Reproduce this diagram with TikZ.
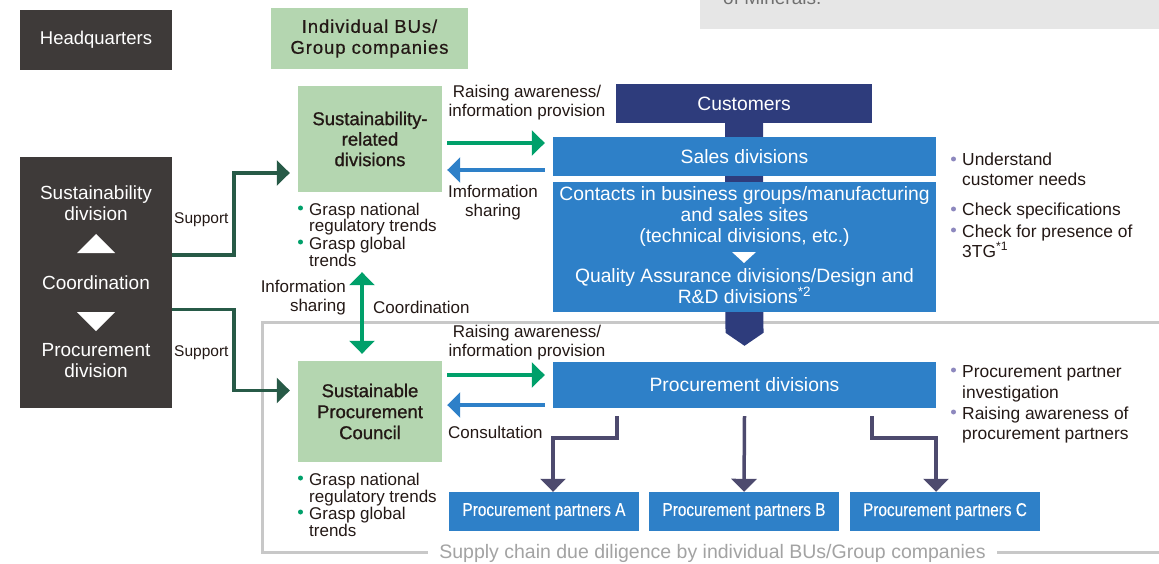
\documentclass[tikz,border=0pt]{standalone}
\usepackage{fontspec}
\setmainfont{Liberation Sans}
\newfontfamily\medfont{Liberation Sans}[FakeBold=1.0]
\newfontfamily\spfont{Liberation Sans}[FakeBold=0.5,LetterSpace=5]
\newfontfamily\cdfont{Liberation Sans}[FakeStretch=0.83,FakeBold=0.3]
\usetikzlibrary{arrows.meta,calc,backgrounds}
\definecolor{hqdark}{HTML}{3E3A39}
\definecolor{lgreen}{HTML}{B4D6B0}
\definecolor{navy}{HTML}{2E3C7C}
\definecolor{bblue}{HTML}{2E80C8}
\definecolor{agreen}{HTML}{00A06A}
\definecolor{sgreen}{HTML}{275A47}
\definecolor{parr}{HTML}{4D4A6E}
\definecolor{gframe}{HTML}{C8C8C8}
\definecolor{gtext}{HTML}{A3A3A3}
\definecolor{gbox}{HTML}{E6E6E6}
\definecolor{gboxtext}{HTML}{707070}
\definecolor{bpurple}{HTML}{8D88BE}
\definecolor{ink}{HTML}{231815}
\begin{document}
\begin{tikzpicture}[x=1pt,y=-1pt,text=ink,
  font=\fontsize{17}{19}\selectfont,
  darkbox/.style={fill=hqdark,text=white,inner sep=0pt,align=center},
  greenbox/.style={fill=lgreen,text=ink,inner sep=0pt,align=center},
  bluebox/.style={fill=bblue,text=white,inner sep=0pt,align=center,font=\fontsize{19.3}{21}\selectfont},
  lbl/.style={inner sep=0pt,align=center},
  ln/.style={inner sep=0pt,anchor=base west},
  tipA/.tip={Triangle[length=13pt,width=25pt]},
  garrow/.style={draw=agreen,line width=4pt,-tipA},
  barrow/.style={draw=bblue,line width=4pt,-tipA},
  sarrow/.style={draw=sgreen,line width=3.5pt,-tipA},
  parrow/.style={draw=parr,line width=3.5pt,-tipA},
  gdot/.style={fill=agreen},
  pdot/.style={fill=bpurple}]
\useasboundingbox (0,0) rectangle (1159,564);

% top-right grey box (cut off)
\fill[gbox] (700,0) rectangle (1159,29);
\begin{scope}
\clip (700,0) rectangle (1159,29);
\node[ln,text=gboxtext,font=\fontsize{19}{21}\selectfont] (minerals) at (723,5) {of Minerals.};
\end{scope}

% headquarters
\node[darkbox,minimum width=152pt,minimum height=60pt,font=\fontsize{18.5}{20}\selectfont] (hq) at (96,40) {Headquarters};
\node[greenbox,minimum width=197pt,minimum height=61pt,font=\spfont\fontsize{18.5}{21}\selectfont] (bu) at (369.5,38.5) {Individual BUs/\\Group companies};

% left dark box
\node[darkbox,minimum width=152pt,minimum height=250pt] (lb) at (96,282.5) {};
\node[lbl,text=white,font=\fontsize{19}{21}\selectfont] (lbs) at (96,203.5) {Sustainability\\division};
\fill[white] (77,253) -- (115,253) -- (96,234) -- cycle;
\node[lbl,text=white,font=\fontsize{19}{21}\selectfont] (lbc) at (96,283) {Coordination};
\fill[white] (77,312) -- (115,312) -- (96,331) -- cycle;
\node[lbl,text=white,font=\fontsize{19}{21}\selectfont] (lbp) at (96,361) {Procurement\\division};

% green boxes
\node[greenbox,minimum width=144pt,minimum height=106pt,font=\medfont\fontsize{18.5}{20.5}\selectfont] (sr) at (370,139) {Sustainability-\\related\\divisions};
\node[greenbox,minimum width=144pt,minimum height=101pt,font=\medfont\fontsize{18.5}{21}\selectfont] (spc) at (370,411.5) {Sustainable\\Procurement\\Council};

% blue boxes
\node[bluebox,fill=navy,minimum width=256pt,minimum height=39pt] (cust) at (744,103.5) {Customers};
\node[bluebox,minimum width=383pt,minimum height=39pt] (sales) at (744.5,156.5) {Sales divisions};
\node[bluebox,minimum width=383pt,minimum height=130pt] (cont) at (744.5,247) {};
\node[lbl,text=white,font=\fontsize{19.3}{21}\selectfont] (cont1) at (744.5,217) {Contacts in business groups/manufacturing\\and sales sites\\(technical divisions, etc.)};
\fill[white] (732,252) -- (756,252) -- (744,263) -- cycle;
\node[lbl,text=white,font=\fontsize{19.3}{21}\selectfont] (cont2) at (744.5,286.5) {Quality Assurance divisions/Design and\\R\&D divisions\textsuperscript{*2}};
\node[bluebox,minimum width=383pt,minimum height=46pt] (pd) at (744.5,385) {Procurement divisions};
\node[bluebox,font=\cdfont\fontsize{18.5}{20}\selectfont,minimum width=190pt,minimum height=39pt] (pa) at (544,511.5) {Procurement partners A};
\node[bluebox,font=\cdfont\fontsize{18.5}{20}\selectfont,minimum width=190pt,minimum height=39pt] (pb) at (744,511.5) {Procurement partners B};
\node[bluebox,font=\cdfont\fontsize{18.5}{20}\selectfont,minimum width=190pt,minimum height=39pt] (pc) at (945,511.5) {Procurement partners C};

% support arrows
\draw[sarrow] ($(lb.east)+(0,-27.5)$) -- ++(62,0) |- ($(sr.west)+(-8,34)$);
\draw[sarrow] ($(lb.east)+(0,27)$) -- ++(62,0) |- ($(spc.west)+(-8,-21)$);
\node[ln,font=\fontsize{15.5}{17}\selectfont] (sup1) at (174,223) {Support};
\node[ln,font=\fontsize{15.5}{17}\selectfont] (sup2) at (174,356) {Support};

% horizontal arrows
\draw[garrow] ($(sr.east)+(5,4)$) -- ($(sales.west)+(-8,-13.5)$);
\draw[barrow] ($(sales.west)+(-8,13.5)$) -- ($(sr.east)+(5,31)$);
\draw[garrow] ($(spc.east)+(5,-36.5)$) -- ($(pd.west)+(-8,-10)$);
\draw[barrow] ($(pd.west)+(-8,20)$) -- ($(spc.east)+(5,-6.5)$);
\node[lbl] (ra1) at (527,102.5) {Raising awareness/\\information provision};
\node[lbl] (is1) at (493,202.5) {Imformation\\sharing};
\node[lbl] (ra2) at (527,343) {Raising awareness/\\information provision};
\node[ln] (cons) at (448,438) {Consultation};

% vertical double arrow
\draw[draw=agreen,line width=4pt,tipA-tipA] ($(sr.south)+(-8,80)$) -- ($(spc.north)+(-8,-7)$);
\node[lbl,align=right,anchor=east] (is2) at (346,298) {Information\\sharing};
\node[ln] (coord) at (373,313) {Coordination};

% green bullets
\fill[gdot] (300.5,208) circle (2.5pt);
\fill[gdot] (300.5,242) circle (2.5pt);
\node[ln] (g1) at (309,215) {Grasp national};
\node[ln] (g2) at (309,232) {regulatory trends};
\node[ln] (g3) at (309,249) {Grasp global};
\node[ln] (g4) at (309,266) {trends};
\fill[gdot] (300.5,478) circle (2.5pt);
\fill[gdot] (300.5,512) circle (2.5pt);
\node[ln] (h1) at (309,485) {Grasp national};
\node[ln] (h2) at (309,502) {regulatory trends};
\node[ln] (h3) at (309,519) {Grasp global};
\node[ln] (h4) at (309,536) {trends};

% purple bullets
\fill[pdot] (953.5,159) circle (2.5pt);
\fill[pdot] (953.5,209) circle (2.5pt);
\fill[pdot] (953.5,230) circle (2.5pt);
\node[ln,font=\fontsize{17.4}{19}\selectfont] (r1) at (962,166) {Understand};
\node[ln,font=\fontsize{17.4}{19}\selectfont] (r2) at (962,186) {customer needs};
\node[ln,font=\fontsize{17.4}{19}\selectfont] (r3) at (962,216) {Check specifications};
\node[ln,font=\fontsize{17.4}{19}\selectfont] (r4) at (962,237) {Check for presence of};
\node[ln,font=\fontsize{17.4}{19}\selectfont] (r5) at (962,257) {3TG\textsuperscript{*1}};
\fill[pdot] (953.5,370) circle (2.5pt);
\fill[pdot] (953.5,412) circle (2.5pt);
\node[ln,font=\fontsize{17.4}{19}\selectfont] (s1) at (962,377) {Procurement partner};
\node[ln,font=\fontsize{17.4}{19}\selectfont] (s2) at (962,398) {investigation};
\node[ln,font=\fontsize{17.4}{19}\selectfont] (s3) at (962,419) {Raising awareness of};
\node[ln,font=\fontsize{17.4}{19}\selectfont] (s4) at (962,439) {procurement partners};

% purple branch arrows
\draw[parrow] ($(pd.south west)+(64,8)$) -- ++(0,22) -| ($(pa.north)+(9,0)$);
\draw[parrow] ($(pd.south)+(0,8)$) -- (pb.north);
\draw[parrow] ($(pd.south east)+(-64,8)$) -- ++(0,22) -| ($(pc.north)+(-9,0)$);

\begin{pgfonlayer}{background}
\draw[gframe,line width=3pt] (1162,322) -- (262,322) -- (262,552) -- (1162,552);
\node[fill=white,inner xsep=11pt,inner ysep=3pt,text=gtext,font=\fontsize{19.5}{21}\selectfont] (scdd) at (712.5,553) {Supply chain due diligence by individual BUs/Group companies};
\fill[navy] ($(cust.south)+(-19,-1)$) -- ($(cust.south)+(19,-1)$) -- ($(pd.north)+(19,-29)$) -- ($(pd.north)+(0,-16)$) -- ($(pd.north)+(-19,-29)$) -- cycle;
\end{pgfonlayer}
\end{tikzpicture}
\end{document}
